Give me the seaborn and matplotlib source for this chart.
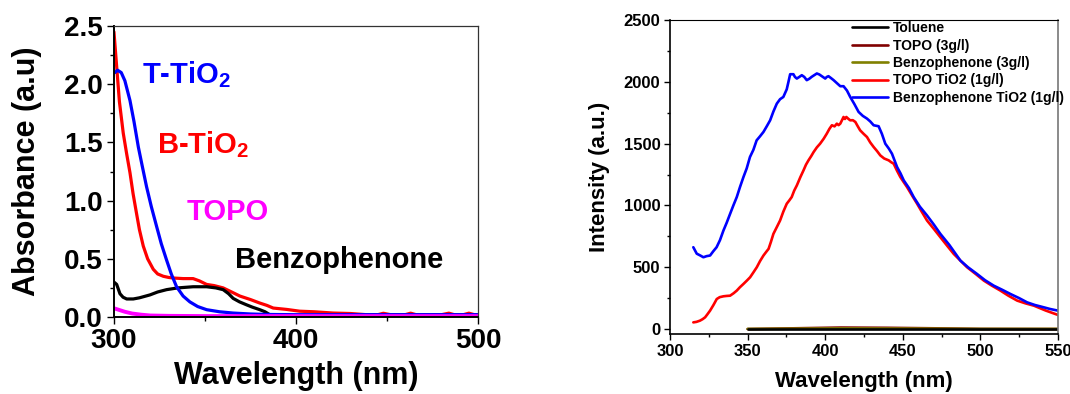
import numpy as np
import pandas as pd
import seaborn as sns
import matplotlib.pyplot as plt
from matplotlib.ticker import MultipleLocator

# ---- left panel: absorbance ----
t_tio2_x = [300.5, 302, 304, 306, 308.8, 311, 313.4, 315.5, 317.9, 320.5, 323.4, 326, 328.9, 331.5, 334.4,
            338, 341.7, 346, 350.9, 358, 365.5, 375, 383.8, 400, 450, 500]
t_tio2_y = [2.10, 2.12, 2.10, 2.03, 1.86, 1.68, 1.46, 1.30, 1.12, 0.95, 0.78, 0.63, 0.49, 0.37, 0.26,
            0.18, 0.13, 0.09, 0.063, 0.045, 0.034, 0.026, 0.022, 0.02, 0.02, 0.02]

b_tio2_x = [300, 301.5, 303, 305.1, 307, 308.8, 310.5, 312.4, 314, 316.1, 318.5, 321.6, 324, 327.1, 330, 332.6,
            338, 343.5, 347, 350.9, 355, 360, 364, 369.2, 375, 380.1, 384, 387.5, 395, 402, 410, 420.4, 430,
            438.7, 445, 448, 452, 460, 463, 466, 480, 484, 487, 492, 495, 498, 500]
b_tio2_y = [2.45, 2.15, 1.85, 1.58, 1.40, 1.24, 1.06, 0.89, 0.75, 0.61, 0.50, 0.41, 0.37, 0.35, 0.34, 0.335,
            0.33, 0.33, 0.31, 0.28, 0.27, 0.25, 0.22, 0.18, 0.15, 0.12, 0.10, 0.077, 0.065, 0.05, 0.045, 0.034, 0.03,
            0.02, 0.02, 0.032, 0.02, 0.02, 0.033, 0.02, 0.02, 0.033, 0.02, 0.02, 0.033, 0.02, 0.02]

benz_x = [300, 301.5, 303.3, 305, 307, 310.6, 314, 319.8, 324, 328.9, 335, 343.5, 350.9, 356, 360, 363,
          365.5, 369, 372.8, 376, 380.1, 383, 385.6, 387]
benz_y = [0.30, 0.28, 0.20, 0.17, 0.155, 0.155, 0.165, 0.19, 0.215, 0.235, 0.25, 0.26, 0.26, 0.25, 0.235, 0.2,
          0.16, 0.13, 0.105, 0.085, 0.063, 0.045, 0.02, 0.01]

topo_x = [300, 303, 306, 310, 315, 320, 330, 350, 400, 450, 500]
topo_y = [0.075, 0.06, 0.045, 0.03, 0.02, 0.013, 0.01, 0.008, 0.008, 0.008, 0.008]

# ---- right panel: emission ----
benz_tio2_x = [315, 317.2, 319.5, 321.5, 323.6, 325.8, 327.9, 330, 332.2, 334.4, 336.5, 338.7, 340.8, 343, 345.1,
               347.3, 349.4, 351.5, 353.7, 355.8, 358, 360.2, 362.3, 364.5, 366.6, 368.8, 370.9, 373, 375.2, 376.3,
               377.4, 379.5, 380.5, 381.7, 383.3, 384.9, 386.5, 388.1, 389.7, 391.3, 393, 394.6, 396.2, 397.8,
               400, 401, 402.1, 403.8, 405.4, 407.5, 409.7, 411.8, 414, 416.1, 418.8, 421.5, 424.2, 426.9, 429,
               431.2, 434.4, 436.5, 438.7, 441, 443, 446.3, 448.5, 450.6, 454, 457, 461, 465.6, 470, 474.2, 480,
               487.1, 492, 497.8, 503, 508.6, 514, 519.3, 525, 530.1, 535, 540.8, 545, 550]
benz_tio2_y = [662, 610, 595, 581, 590, 595, 630, 662, 720, 797, 860, 932, 1000, 1068, 1150, 1230, 1300, 1392,
               1450, 1527, 1560, 1595, 1640, 1689, 1760, 1824, 1860, 1878, 1940, 2000, 2062, 2062, 2040, 2027,
               2040, 2054, 2040, 2014, 2025, 2041, 2055, 2068, 2060, 2046, 2027, 2040, 2046, 2030, 2014, 1990,
               1965, 1965, 1930, 1878, 1820, 1757, 1725, 1703, 1680, 1649, 1641, 1580, 1500, 1460, 1419, 1311,
               1260, 1203, 1140, 1068, 990, 919, 845, 770, 680, 554, 500, 446, 395, 351, 318, 284, 250, 216, 195,
               176, 162, 149]

topo_tio2_x = [315, 317, 319.3, 321, 322.6, 324, 325.8, 328, 330.1, 332, 334.4, 336.5, 338.7, 341, 343, 345,
               347.3, 349.5, 351.6, 353.8, 355.9, 358, 360.2, 362, 363.5, 365, 366.6, 369, 370.9, 373, 375.2,
               376.8, 378.4, 380, 381.7, 384, 386, 387.6, 389.2, 391, 392.5, 394.6, 396.7, 399, 401, 402.7, 404.3,
               406, 407.5, 408.6, 409.7, 410.8, 411.8, 412.7, 413.6, 415, 416.1, 417.8, 419.4, 421, 422.5, 424.7,
               426.9, 429, 431.2, 433.4, 435.5, 438, 440.9, 442.5, 444.1, 446.3, 448.4, 450.5, 452.7, 456, 459.2,
               462.4, 465.6, 470, 474.2, 478.5, 482.8, 487, 491.4, 497, 502.2, 507.5, 512.9, 518, 523.7, 529,
               534.5, 542, 550]
topo_tio2_y = [54, 58, 68, 80, 95, 118, 149, 195, 243, 258, 265, 268, 270, 290, 311, 338, 365, 392, 419, 460,
               500, 550, 595, 625, 649, 705, 770, 830, 878, 950, 1014, 1040, 1068, 1120, 1162, 1230, 1284, 1330,
               1365, 1400, 1432, 1470, 1500, 1540, 1581, 1620, 1649, 1640, 1662, 1650, 1662, 1690, 1716, 1700,
               1716, 1700, 1689, 1690, 1676, 1640, 1608, 1580, 1554, 1510, 1473, 1440, 1405, 1380, 1365, 1350,
               1338, 1280, 1230, 1190, 1149, 1080, 1014, 945, 878, 810, 743, 675, 608, 555, 500, 445, 392, 350,
               311, 270, 230, 208, 189, 150, 114]

flat_x = [350, 380, 410, 440, 470, 500, 550]
toluene_y = [0, 0, 0, 0, 0, 0, 0]
topo3_y = [0, 6, 12, 10, 6, 1, 0]
benz3_y = [1, 3, 5, 4, 3, 1, 1]

legend_labels = ["Toluene", "TOPO (3g/l)", "Benzophenone (3g/l)", "TOPO TiO2 (1g/l)", "Benzophenone TiO2 (1g/l)"]
legend_colors = ["black", "#800000", "#808000", "#ff0000", "#0000ff"]

sns.set_style("ticks")
plt.rcParams["font.family"] = ["Liberation Sans", "DejaVu Sans"]
plt.rcParams["font.weight"] = "bold"
plt.rcParams["axes.labelweight"] = "bold"
plt.rcParams["text.color"] = "black"
plt.rcParams["axes.labelcolor"] = "black"
plt.rcParams["xtick.color"] = "black"
plt.rcParams["ytick.color"] = "black"
plt.rcParams["mathtext.fontset"] = "custom"
plt.rcParams["mathtext.rm"] = "Liberation Sans:bold"
plt.rcParams["mathtext.bf"] = "Liberation Sans:bold"
plt.rcParams["mathtext.default"] = "rm"

fig = plt.figure(figsize=(10.7, 3.94), dpi=100)
ax1 = fig.add_axes([0.1065, 0.1954, 0.3402, 0.7386])
ax2 = fig.add_axes([0.6262, 0.1523, 0.3626, 0.7967])

# left panel
lw = 2.3
sns.lineplot(x=b_tio2_x, y=b_tio2_y, ax=ax1, color="#ff0000", lw=lw, sort=False)
sns.lineplot(x=benz_x, y=benz_y, ax=ax1, color="black", lw=lw, sort=False)
sns.lineplot(x=t_tio2_x, y=t_tio2_y, ax=ax1, color="#0000ff", lw=lw, sort=False)
sns.lineplot(x=topo_x, y=topo_y, ax=ax1, color="#ff00ff", lw=2.8, sort=False)
ax1.set_xlim(300, 500)
ax1.set_ylim(0, 2.5)
ax1.xaxis.set_major_locator(MultipleLocator(100))
ax1.xaxis.set_minor_locator(MultipleLocator(50))
ax1.yaxis.set_major_locator(MultipleLocator(0.5))
ax1.yaxis.set_minor_locator(MultipleLocator(0.25))
ax1.set_yticklabels([f"{v:.1f}" for v in ax1.get_yticks()])
ax1.tick_params(axis="both", which="major", labelsize=20, length=5, width=1, direction="out", pad=3)
ax1.tick_params(axis="both", which="minor", length=3, width=1, direction="out")
for s in ["left", "bottom"]:
    ax1.spines[s].set_linewidth(1.4)
    ax1.spines[s].set_color("black")
for s in ["top", "right"]:
    ax1.spines[s].set_visible(True)
    ax1.spines[s].set_linewidth(0.9)
    ax1.spines[s].set_color("#333333")
ax1.set_xlabel("Wavelength (nm)", fontsize=22, labelpad=5)
ax1.set_ylabel("Absorbance (a.u)", fontsize=22, labelpad=16)
ax1.text(315.4, 2.01, r"T-TiO$_2$", color="#0000ff", fontsize=21, fontweight="bold", va="baseline")
ax1.text(323.6, 1.41, r"B-TiO$_2$", color="#ff0000", fontsize=21, fontweight="bold", va="baseline")
ax1.text(340.1, 0.83, "TOPO", color="#ff00ff", fontsize=21, fontweight="bold", va="baseline")
ax1.text(366.5, 0.42, "Benzophenone", color="black", fontsize=21, fontweight="bold", va="baseline")

# right panel
lw2 = 1.9
h_topo3 = sns.lineplot(x=flat_x, y=topo3_y, ax=ax2, color=legend_colors[1], lw=lw2).lines[-1]
h_benz3 = sns.lineplot(x=flat_x, y=benz3_y, ax=ax2, color=legend_colors[2], lw=lw2).lines[-1]
h_tol = sns.lineplot(x=flat_x, y=toluene_y, ax=ax2, color=legend_colors[0], lw=lw2).lines[-1]
h_topo = sns.lineplot(x=topo_tio2_x, y=topo_tio2_y, ax=ax2, color=legend_colors[3], lw=lw2, sort=False).lines[-1]
h_benz = sns.lineplot(x=benz_tio2_x, y=benz_tio2_y, ax=ax2, color=legend_colors[4], lw=lw2, sort=False).lines[-1]
ax2.set_xlim(300, 550)
ax2.set_ylim(-40, 2500)
ax2.xaxis.set_major_locator(MultipleLocator(50))
ax2.xaxis.set_minor_locator(MultipleLocator(25))
ax2.yaxis.set_major_locator(MultipleLocator(500))
ax2.yaxis.set_minor_locator(MultipleLocator(250))
ax2.tick_params(axis="both", which="major", labelsize=12, length=4, width=1, direction="out", pad=3)
ax2.tick_params(axis="both", which="minor", length=2.5, width=1, direction="out")
for s in ["left", "bottom"]:
    ax2.spines[s].set_linewidth(1.2)
    ax2.spines[s].set_color("black")
ax2.spines["top"].set_visible(True)
ax2.spines["top"].set_linewidth(0.8)
ax2.spines["top"].set_color("black")
ax2.spines["right"].set_visible(True)
ax2.spines["right"].set_linewidth(1.2)
ax2.spines["right"].set_color("#777777")
ax2.set_xlabel("Wavelength (nm)", fontsize=16, labelpad=9)
ax2.set_ylabel("Intensity (a.u.)", fontsize=16, labelpad=10)
ax2.legend([h_tol, h_topo3, h_benz3, h_topo, h_benz], legend_labels, loc="upper left",
           bbox_to_anchor=(0.47, 0.997), frameon=False, fontsize=10, handlelength=2.6,
           handletextpad=0.3, labelspacing=0.25, borderpad=0, borderaxespad=0)

plt.savefig("out.png", dpi=100)
plt.close()
